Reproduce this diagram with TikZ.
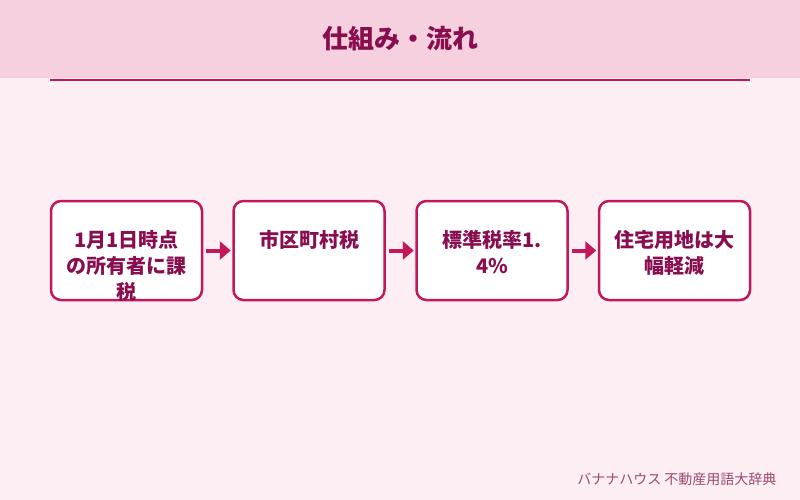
\documentclass[tikz,border=0pt]{standalone}
\usepackage{fontspec}
\setmainfont{Noto Sans CJK JP}
\usetikzlibrary{arrows.meta}
\definecolor{bg}{HTML}{FDEEF3}
\definecolor{hdr}{HTML}{F6D0DF}
\definecolor{accent}{HTML}{C2185B}
\definecolor{ink}{HTML}{880E4F}
\definecolor{foot}{HTML}{9C4A6E}
\tikzset{
  stepbox/.style={draw=accent, line width=2.5pt, fill=white, rounded corners=10pt,
    minimum width=151pt, minimum height=99pt, inner sep=0pt},
  boxtext/.style={text=ink, font=\fontsize{20}{26}\selectfont\bfseries, align=center,
    inner sep=0pt, anchor=north},
  flow/.style={accent, line width=4pt, -{Triangle[length=11pt,width=18pt]}, shorten >=1.5pt, shorten <=3pt},
  titletext/.style={text=ink, font=\fontsize{26}{30}\selectfont\bfseries},
  foottext/.style={text=foot, font=\fontsize{14}{16}\selectfont, anchor=east}
}
\begin{document}
\begin{tikzpicture}[x=1pt,y=-1pt]
\fill[bg] (0,0) rectangle (800,500);
\useasboundingbox (0,0) rectangle (800,500);
\fill[hdr] (0,0) rectangle (800,78);
\node[titletext] (title) at (400,39) {仕組み・流れ};
\coordinate (rl) at (50,80.5);
\coordinate (rr) at (750,80.5);
\draw[accent, line width=2pt] (rl) -- (rr);
\node[stepbox] (b1) at (126.5,250.5) {};
\node[stepbox] (b2) at (309,250.5) {};
\node[stepbox] (b3) at (492,250.5) {};
\node[stepbox] (b4) at (674.5,250.5) {};
\node[boxtext] (t1) at (126.5,230) {1月1日時点\\の所有者に課\\税};
\node[boxtext] (t2) at (309,230) {市区町村税};
\node[boxtext] (t3) at (492,230) {標準税率1.\\4\%};
\node[boxtext] (t4) at (674.5,230) {住宅用地は大\\幅軽減};
\draw[flow] (b1) -- (b2);
\draw[flow] (b2) -- (b3);
\draw[flow] (b3) -- (b4);
\node[foottext] (foot) at (780,479) {バナナハウス 不動産用語大辞典};
\end{tikzpicture}
\end{document}
